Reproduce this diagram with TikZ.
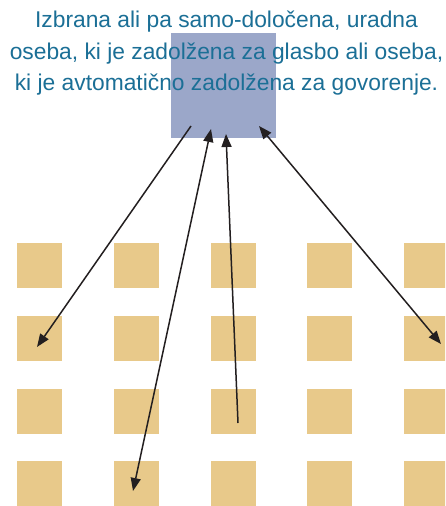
\documentclass[tikz,border=0pt]{standalone}
\usepackage{fontspec}
\setmainfont{Liberation Sans}
\usetikzlibrary{arrows.meta}
\definecolor{txtblue}{HTML}{1B6F96}
\definecolor{boxblue}{HTML}{9BA7C9}
\definecolor{tanbox}{HTML}{E8C98A}
\definecolor{arrblack}{HTML}{231F20}
\begin{document}
\begin{tikzpicture}[x=1pt,y=-1pt,
  sq/.style={fill=tanbox, draw=none, minimum size=45pt, inner sep=0pt, outer sep=0pt},
  bigbox/.style={fill=boxblue, draw=none, minimum size=105pt, inner sep=0pt, outer sep=0pt},
  caption/.style={text=txtblue, font=\fontsize{22.8}{31.7}\selectfont, inner sep=0pt, anchor=base},
  conn/.style={draw=arrblack, line width=1.5pt, -{Triangle[length=13pt,width=10pt]}},
  dconn/.style={draw=arrblack, line width=1.5pt, {Triangle[length=13pt,width=10pt]}-{Triangle[length=13pt,width=10pt]}}]
\useasboundingbox (0,0) rectangle (445,506);
\clip (0,0) rectangle (445,506);
% grid of squares
\foreach \c/\x in {1/39.5,2/136.5,3/233.5,4/329.5,5/426.5}{
  \foreach \r/\y in {1/265.5,2/338.5,3/411.5,4/483.5}{
    \node[sq] (s\c\r) at (\x,\y) {};
  }
}
% blue box
\node[bigbox] (box) at (223.5,85.5) {};
% caption
\node[caption] (t1) at (226.5,27.3) {Izbrana ali pa samo-določena, uradna};
\node[caption] (t2) at (226.5,59.3) {oseba, ki je zadolžena za glasbo ali oseba,};
\node[caption] (t3) at (226.5,90.7) {ki je avtomatično zadolžena za govorenje.};
% arrow endpoints
\coordinate (a1s) at (191,126);
\coordinate (a1e) at (37,347);
\coordinate (a2s) at (211,129);
\coordinate (a2e) at (133,491);
\coordinate (a3s) at (238,423);
\coordinate (a3e) at (226,134);
\coordinate (a4s) at (259,126);
\coordinate (a4e) at (441,344);
\draw[conn] (a1s) -- (a1e);
\draw[dconn] (a2s) -- (a2e);
\draw[conn] (a3s) -- (a3e);
\draw[dconn] (a4s) -- (a4e);
\end{tikzpicture}
\end{document}
